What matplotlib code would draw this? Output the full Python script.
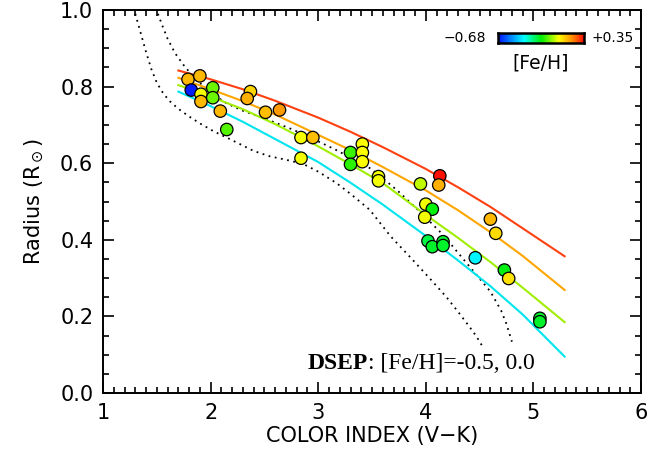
import numpy as np
import matplotlib
matplotlib.use('Agg')
import matplotlib.pyplot as plt
from matplotlib.colors import LinearSegmentedColormap, Normalize
from matplotlib.ticker import MultipleLocator

# stars: colour index, radius, metallicity
vk = [1.79, 1.90, 1.82, 2.02, 1.91, 1.91, 2.02, 2.37, 2.34, 2.09,
      2.51, 2.64, 2.15, 2.84, 2.95, 2.84, 3.41, 3.30, 3.41, 3.41,
      3.30, 3.56, 3.56, 3.95, 4.13, 4.12, 4.00, 4.06, 3.99, 4.02,
      4.06, 4.16, 4.16, 4.46, 4.60, 4.65, 4.73, 4.77, 5.06, 5.06]
radius = [0.819, 0.828, 0.791, 0.797, 0.780, 0.761, 0.771, 0.787, 0.769, 0.736,
          0.733, 0.739, 0.688, 0.667, 0.667, 0.613, 0.650, 0.628, 0.628, 0.604,
          0.597, 0.565, 0.554, 0.546, 0.567, 0.543, 0.493, 0.480, 0.459, 0.397,
          0.382, 0.395, 0.385, 0.353, 0.454, 0.417, 0.321, 0.299, 0.195, 0.186]
feh = [0.14, 0.14, -0.66, -0.08, 0.03, 0.14, -0.08, 0.10, 0.15, 0.14,
       0.13, 0.18, -0.10, 0.03, 0.13, 0.03, 0.04, -0.12, 0.04, 0.04,
       -0.13, 0.03, 0.03, -0.01, 0.33, 0.15, 0.03, -0.17, 0.03, -0.22,
       -0.20, -0.20, -0.20, -0.38, 0.14, 0.09, -0.18, 0.08, -0.20, -0.20]

# model relations (coloured lines)
model_x = [1.70, 2.00, 2.30, 2.60, 3.00, 3.30, 3.60, 4.00, 4.30, 4.60, 4.90, 5.29]
model_red = [0.842, 0.819, 0.793, 0.763, 0.719, 0.682, 0.642, 0.585, 0.537, 0.486, 0.430, 0.357]
model_orange = [0.823, 0.793, 0.762, 0.727, 0.674, 0.634, 0.590, 0.529, 0.477, 0.420, 0.358, 0.269]
model_green = [0.804, 0.774, 0.741, 0.702, 0.644, 0.597, 0.548, 0.465, 0.405, 0.342, 0.275, 0.185]
model_cyan = [0.787, 0.749, 0.708, 0.663, 0.603, 0.549, 0.492, 0.410, 0.346, 0.279, 0.205, 0.095]

# DSEP isochrones (dotted)
dsep_low_x = [1.30, 1.35, 1.40, 1.45, 1.50, 1.56, 1.62, 1.70, 1.80, 1.90,
              2.03, 2.20, 2.40, 2.55, 2.70, 2.86, 3.00, 3.17, 3.30, 3.48,
              3.67, 3.88, 4.05, 4.19, 4.30, 4.40, 4.47, 4.53]
dsep_low_y = [0.990, 0.940, 0.890, 0.845, 0.810, 0.782, 0.762, 0.742, 0.722, 0.704,
              0.683, 0.660, 0.632, 0.618, 0.609, 0.598, 0.578, 0.548, 0.520, 0.478,
              0.410, 0.347, 0.295, 0.251, 0.212, 0.175, 0.148, 0.120]
dsep_high_x = [1.51, 1.55, 1.60, 1.67, 1.76, 1.87, 2.00, 2.15, 2.30, 2.46,
               2.60, 2.77, 3.00, 3.17, 3.35, 3.48, 3.57, 3.75, 3.95, 4.16,
               4.38, 4.60, 4.70, 4.75, 4.80]
dsep_high_y = [0.990, 0.960, 0.925, 0.887, 0.852, 0.817, 0.784, 0.756, 0.737, 0.721,
               0.706, 0.687, 0.657, 0.634, 0.607, 0.587, 0.568, 0.525, 0.472, 0.413,
               0.339, 0.265, 0.215, 0.180, 0.134]

feh_min, feh_max = -0.68, 0.35

cmap = LinearSegmentedColormap.from_list(
    'idl_rainbow',
    [(0.0, '#0010ff'), (0.3, '#00ffff'), (0.5, '#00f000'),
     (0.7, '#ffff00'), (0.85, '#ff9000'), (1.0, '#ff0000')])
norm = Normalize(feh_min, feh_max)

plt.rcParams['font.family'] = ['DejaVu Sans']
serif = ['Liberation Serif', 'DejaVu Serif']

fig = plt.figure(figsize=(6.66, 4.61), dpi=100)
ax = fig.add_axes([0.1547, 0.1475, 0.8078, 0.8308])

ax.plot(dsep_low_x, dsep_low_y, color='black', lw=1.3, ls=(0, (1, 2.5)))
ax.plot(dsep_high_x, dsep_high_y, color='black', lw=1.3, ls=(0, (1, 2.5)))

ax.plot(model_x, model_red, color='#ff4010', lw=1.5)
ax.plot(model_x, model_orange, color='#ffa500', lw=1.5)
ax.plot(model_x, model_green, color='#a0ee00', lw=1.5)
ax.plot(model_x, model_cyan, color='#00e5ee', lw=1.5)

ax.scatter(vk, radius, c=feh, cmap=cmap, norm=norm, s=80,
           edgecolors='black', linewidths=0.9, zorder=3)

ax.set_xlim(1, 6)
ax.set_ylim(0, 1.0)
ax.xaxis.set_major_locator(MultipleLocator(1))
ax.xaxis.set_minor_locator(MultipleLocator(0.1))
ax.yaxis.set_minor_locator(MultipleLocator(0.05))
ax.set_yticks([0, 0.2, 0.4, 0.6, 0.8, 1.0])
ax.set_yticklabels(['0.0', '0.2', '0.4', '0.6', '0.8', '1.0'])
ax.tick_params(which='both', direction='in', top=True, right=True,
               labelsize=15, width=1.2)
ax.tick_params(which='major', length=8, pad=7)
ax.tick_params(which='minor', length=4)
for sp in ax.spines.values():
    sp.set_linewidth(1.4)

ax.set_xlabel('COLOR INDEX (V\u2212K)', fontsize=15, labelpad=2)
ax.set_ylabel(r'Radius (R$_\odot$)', fontsize=15, labelpad=10)

t1 = ax.text(2.90, 0.063, 'DSEP', fontsize=17, fontweight='bold', family=serif)
fig.canvas.draw()
bb = t1.get_window_extent().transformed(ax.transData.inverted())
ax.text(bb.x1, 0.063, ': [Fe/H]=-0.5, 0.0', fontsize=17, family=serif)

# colour bar legend inside the plot
cax = ax.inset_axes([0.734, 0.914, 0.160, 0.026])
grad = np.linspace(feh_min, feh_max, 256).reshape(1, -1)
cax.imshow(grad, aspect='auto', cmap=cmap, norm=norm,
           extent=[feh_min, feh_max, 0, 1])
cax.set_xticks([])
cax.set_yticks([])
for sp in cax.spines.values():
    sp.set_linewidth(1.8)
ax.text(0.712, 0.927, '\u22120.68', transform=ax.transAxes, fontsize=10,
        ha='right', va='center')
ax.text(0.908, 0.927, '+0.35', transform=ax.transAxes, fontsize=10,
        ha='left', va='center')
ax.text(0.814, 0.862, '[Fe/H]', transform=ax.transAxes, fontsize=13.5,
        ha='center', va='center')

fig.savefig('out.png', dpi=100)
